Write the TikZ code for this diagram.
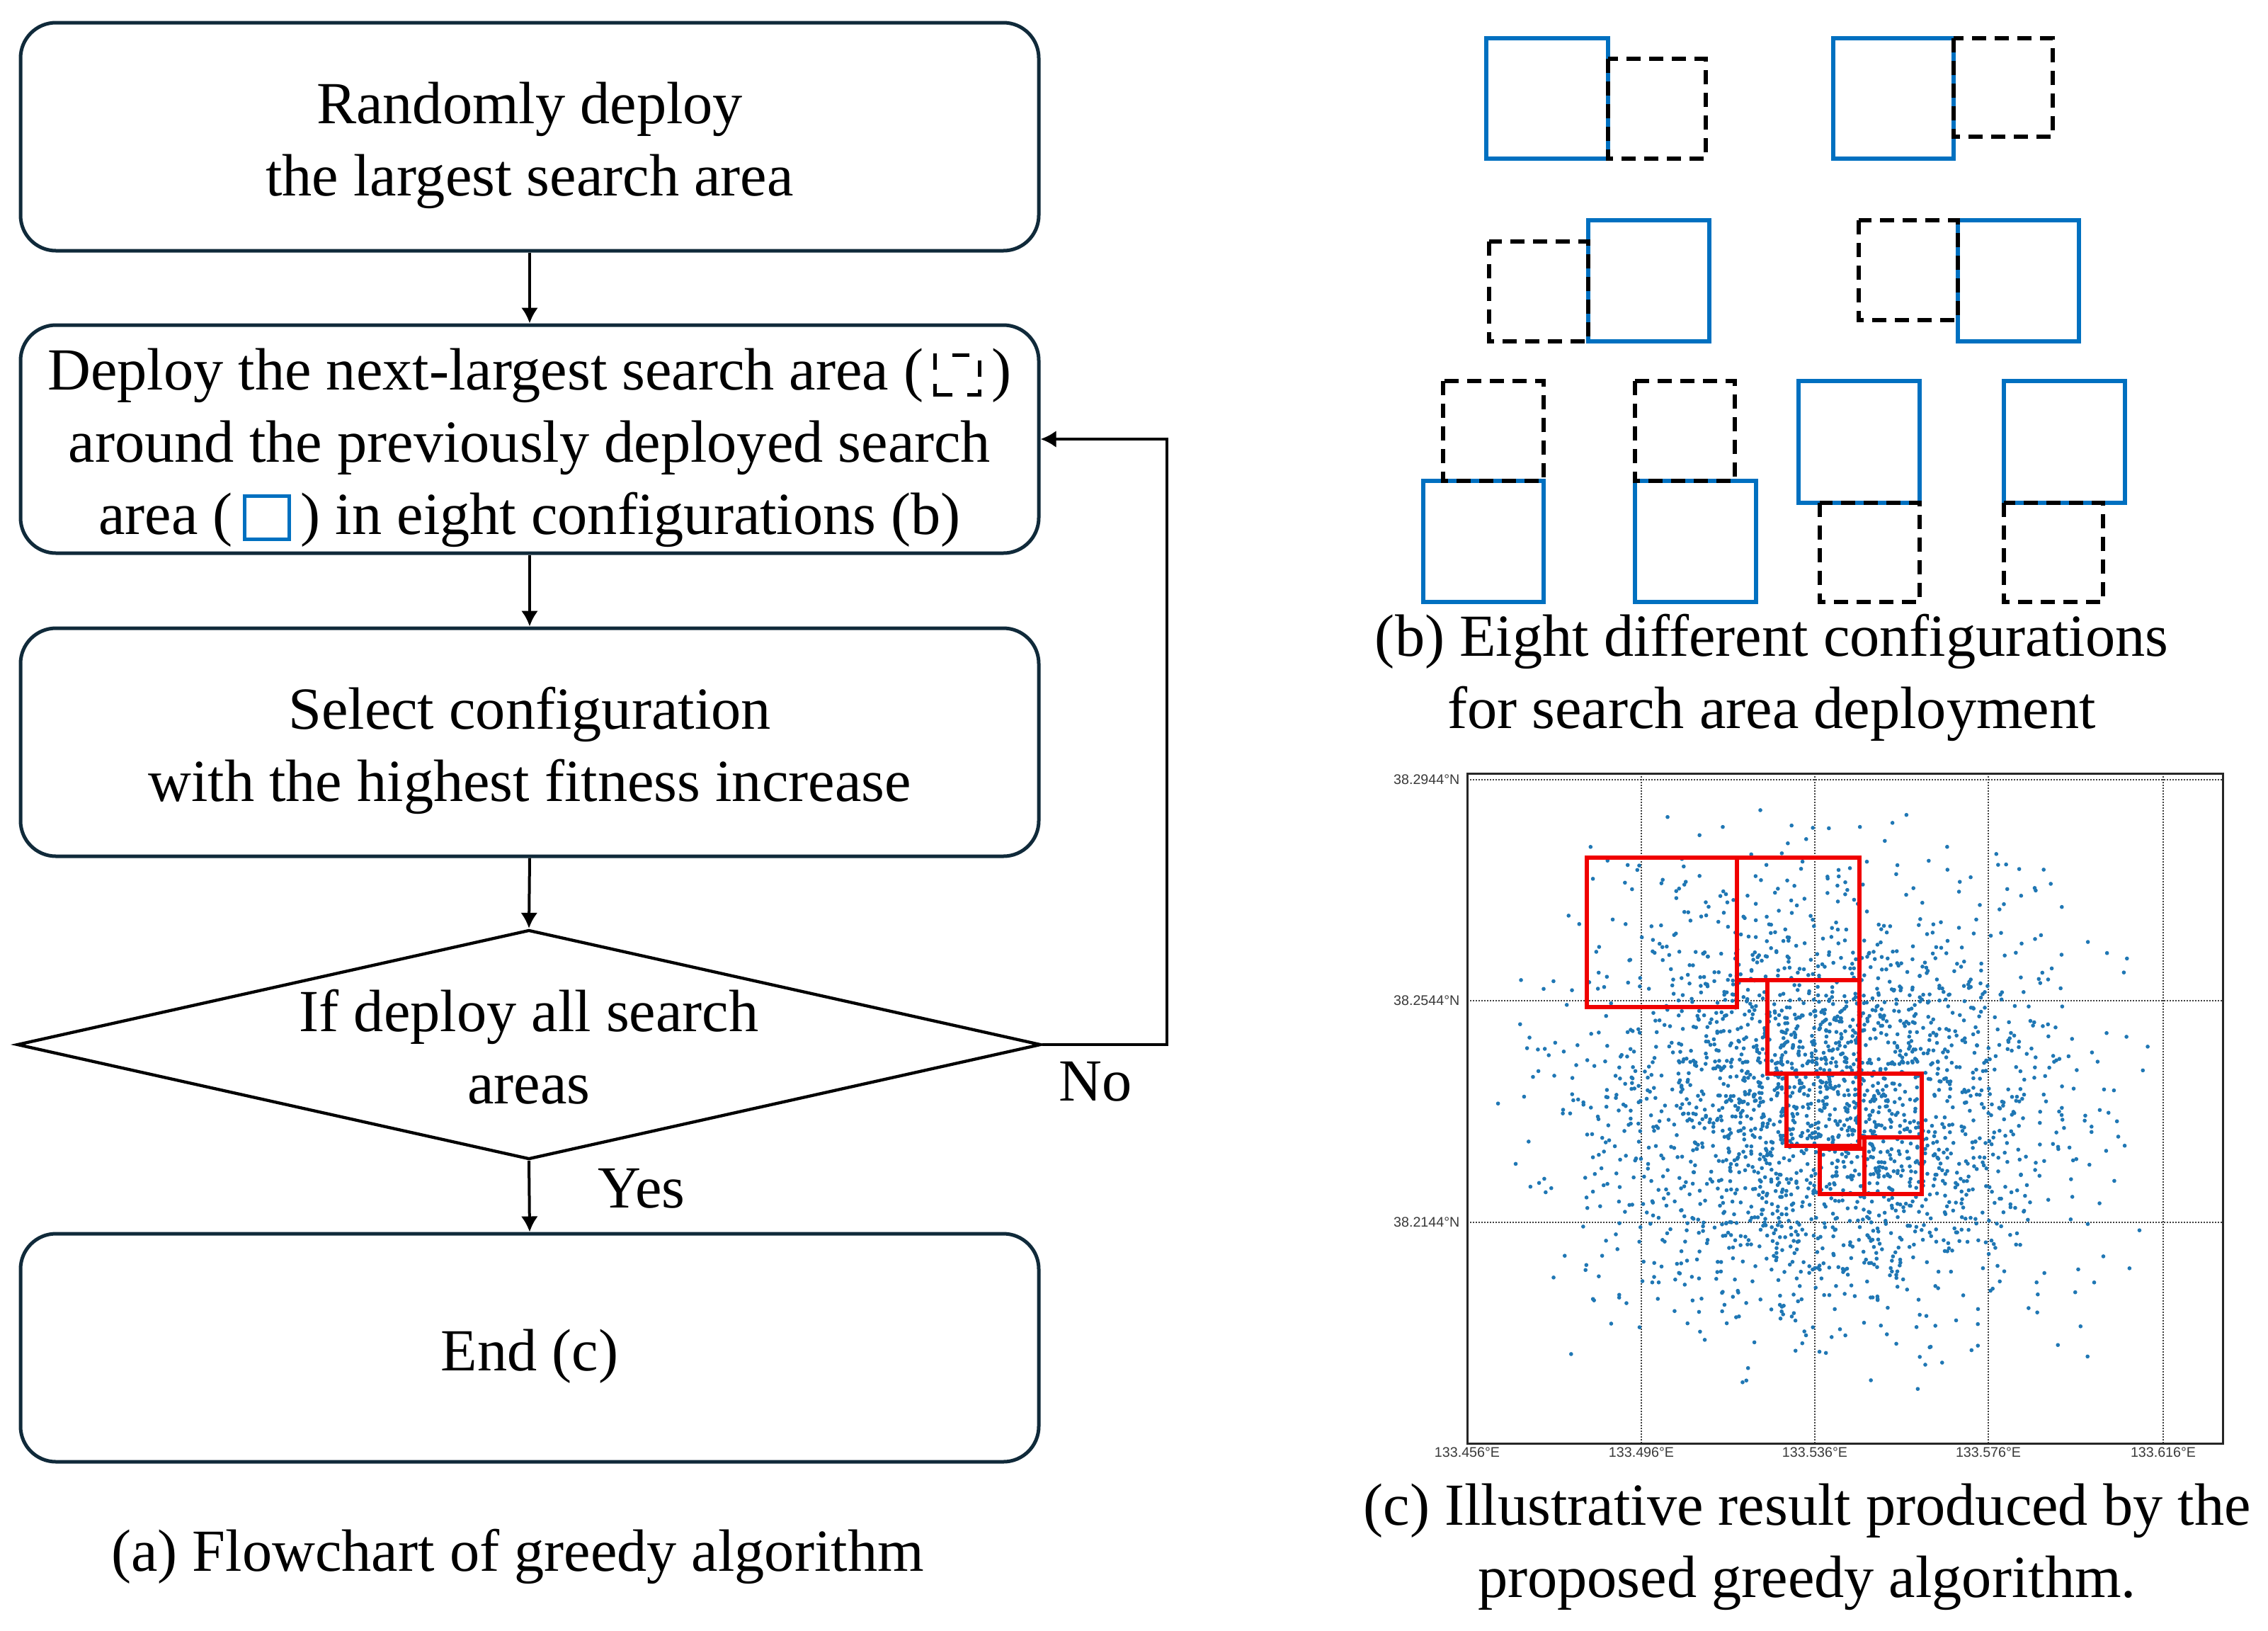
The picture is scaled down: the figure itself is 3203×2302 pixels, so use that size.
\documentclass[tikz,border=0pt]{standalone}
\usepackage{fontspec}
\setmainfont{Liberation Serif}
\newfontfamily\plotfont{Liberation Sans}
\usetikzlibrary{shapes.geometric,arrows.meta}
\definecolor{navy}{HTML}{102A3A}
\definecolor{cfgblue}{HTML}{0070C0}
\definecolor{dotblue}{HTML}{1F77B4}
\definecolor{tickgray}{HTML}{3A3A3A}
\definecolor{plotred}{HTML}{F00000}
\newcommand{\bigtxt}{\fontsize{25.3pt}{30.6pt}\selectfont}
\newcommand{\dashicon}{\raisebox{-3pt}{\setlength{\unitlength}{0.3pt}\begin{picture}(68,61)
\put(0,38){\rule{5\unitlength}{23\unitlength}}
\put(0,0){\rule{5\unitlength}{18\unitlength}}
\put(0,0){\rule{27\unitlength}{5\unitlength}}
\put(27,56){\rule{24\unitlength}{5\unitlength}}
\put(63,28){\rule{5\unitlength}{23\unitlength}}
\put(48,0){\rule{20\unitlength}{5\unitlength}}
\put(63,0){\rule{5\unitlength}{10\unitlength}}
\end{picture}}}
\newcommand{\blueicon}{\raisebox{-3pt}{\setlength{\unitlength}{0.3pt}\color{cfgblue}\begin{picture}(68,66)
\put(0,0){\rule{68\unitlength}{5\unitlength}}
\put(0,61){\rule{68\unitlength}{5\unitlength}}
\put(0,0){\rule{5\unitlength}{66\unitlength}}
\put(63,0){\rule{5\unitlength}{66\unitlength}}
\end{picture}}}
\begin{document}
\begin{tikzpicture}[x=0.3pt,y=-0.3pt,
  box/.style={draw=navy, line width=1.5pt, rounded corners=15pt, minimum width=431.4pt, minimum height=96.6pt, inner sep=0pt},
  decis/.style={diamond, draw=black, line width=1.3pt, minimum width=433.8pt, minimum height=97.2pt, inner sep=0pt},
  txt/.style={align=center, font=\bigtxt, inner sep=0pt},
  arr/.style={line width=1.2pt, -{Latex[length=6.6pt,width=7.2pt]}},
  bluebox/.style={draw=cfgblue, line width=1.7pt},
  dashbox/.style={draw=black, line width=1.7pt, dash pattern=on 6pt off 3.6pt},
  redbox/.style={draw=plotred, line width=2pt},
  gridl/.style={draw=black!75, line width=0.45pt, dash pattern=on 0.7pt off 0.5pt},
  ticklab/.style={font=\plotfont\fontsize{5.9pt}{7pt}\selectfont, text=tickgray, inner sep=0pt}]
\useasboundingbox (0,0) rectangle (3203,2302);
\fill[white] (0,0) rectangle (3203,2302);

% ---------------- (a) flowchart ----------------
\node[box] (b1) at (748,193) {};
\node[txt] (t1) at ([yshift=-3.6pt]b1.center) {Randomly deploy\\the largest search area};
\node[box] (b2) at (748,620) {};
\node[txt] (t2) at ([yshift=-3.6pt]b2.center) {Deploy the next-largest search area (\,\dashicon\,)\\around the previously deployed search\\area (\,\blueicon\,) in eight configurations (b)};
\node[box] (b3) at (748,1048) {};
\node[txt] (t3) at ([yshift=-3.6pt]b3.center) {Select configuration\\with the highest fitness increase};
\node[decis] (dec) at (747,1475) {};
\node[txt] (dect) at (747,1478) {If deploy all search\\areas};
\node[box] (b5) at (748,1903) {};
\node[txt] (t5) at ([yshift=-3.6pt]b5.center) {End (c)};
\coordinate (loopc) at (1648,1475);

\draw[arr] (b1.south) -- (b2.north);
\draw[arr] (b2.south) -- (b3.north);
\draw[arr] (b3.south) -- (dec.north);
\draw[arr] (dec.south) -- (b5.north);
\draw[arr] (dec.east) -- (loopc) |- (b2.east);

\node[txt] (yes) at (906,1678) {Yes};
\node[txt] (no) at (1547,1527) {No};
\node[txt] (capa) at (731,2198) {(a) Flowchart of greedy algorithm};

% ---------------- (b) configurations ----------------
\draw[bluebox] (2099,54) rectangle (2271,224);
\draw[dashbox] (2271,83) rectangle (2409,224);
\draw[bluebox] (2589,54) rectangle (2759,224);
\draw[dashbox] (2759,54) rectangle (2899,193);
\draw[bluebox] (2243,311) rectangle (2414,482);
\draw[dashbox] (2103,341) rectangle (2243,482);
\draw[bluebox] (2765,311) rectangle (2936,482);
\draw[dashbox] (2625,311) rectangle (2765,452);
\draw[bluebox] (2010,679) rectangle (2180,850);
\draw[dashbox] (2038,538) rectangle (2180,679);
\draw[bluebox] (2309,679) rectangle (2480,850);
\draw[dashbox] (2309,538) rectangle (2450,679);
\draw[bluebox] (2540,538) rectangle (2711,710);
\draw[dashbox] (2570,710) rectangle (2711,850);
\draw[bluebox] (2830,538) rectangle (3001,710);
\draw[dashbox] (2830,710) rectangle (2970,850);
\node[txt] (capb) at (2502,957) {(b) Eight different configurations\\for search area deployment};

% ---------------- (c) result plot ----------------
\foreach \gx in {2318,2563,2808,3055} {\draw[gridl] (\gx,1092) -- (\gx,2038);}
\foreach \gy in {1101,1413,1726} {\draw[gridl] (2072,\gy) -- (3139,\gy);}
\pgfmathsetseed{20240}
\foreach \i in {1,...,2500} {\fill[dotblue] ({2575+165*(rand+rand+rand)},{1555+152*(rand+rand+rand)}) circle[radius=0.85pt];}
\draw[draw=black!85, line width=0.9pt] (2072,1092) rectangle (3139,2038);
\draw[redbox] (2241,1211) rectangle (2453,1422);
\draw[redbox] (2453,1211) rectangle (2626,1384);
\draw[redbox] (2496,1384) rectangle (2626,1516);
\draw[redbox] (2523,1516) rectangle (2626,1618);
\draw[redbox] (2626,1516) rectangle (2714,1606);
\draw[redbox] (2570,1622) rectangle (2633,1686);
\draw[redbox] (2633,1606) rectangle (2714,1686);
\node[ticklab, anchor=east] (ly1) at (2062,1101) {38.2944°N};
\node[ticklab, anchor=east] (ly2) at (2062,1413) {38.2544°N};
\node[ticklab, anchor=east] (ly3) at (2062,1726) {38.2144°N};
\node[ticklab] (lx1) at (2072,2051) {133.456°E};
\node[ticklab] (lx2) at (2318,2051) {133.496°E};
\node[ticklab] (lx3) at (2563,2051) {133.536°E};
\node[ticklab] (lx4) at (2808,2051) {133.576°E};
\node[ticklab] (lx5) at (3055,2051) {133.616°E};
\node[txt] (capc) at (2552,2184) {(c) Illustrative result produced by the\\proposed greedy algorithm.};
\end{tikzpicture}
\end{document}
